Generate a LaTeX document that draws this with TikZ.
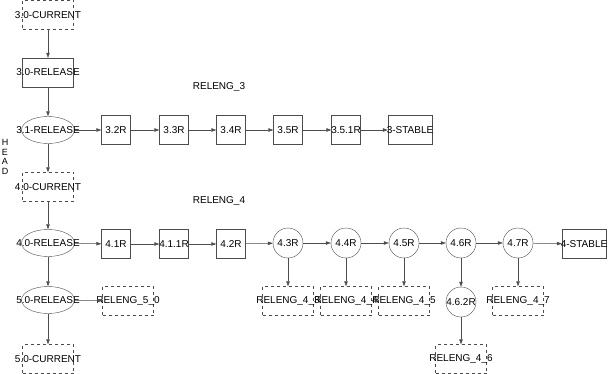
\documentclass[tikz,border=0pt]{standalone}
\usepackage{fontspec}
\setmainfont{Liberation Sans}
\usetikzlibrary{arrows.meta,shapes.geometric}
\definecolor{ln}{gray}{0.3}
\begin{document}
\begin{tikzpicture}[x=1pt,y=-1pt,font=\fontsize{10}{12}\selectfont,
  lbl/.style={inner sep=0pt,text=black},
  bigbox/.style={draw=ln,minimum width=51pt,minimum height=29pt,inner sep=0pt},
  curbox/.style={bigbox,dashed},
  smallbox/.style={draw=ln,minimum width=29pt,minimum height=29pt,inner sep=0pt},
  stablebox/.style={draw=ln,minimum width=44pt,minimum height=29pt,inner sep=0pt},
  relnode/.style={draw=ln,ellipse,minimum width=53pt,minimum height=27pt,inner sep=0pt},
  circnode/.style={draw=ln,circle,minimum size=30pt,inner sep=0pt},
  conn/.style={draw=ln,line width=0.5pt,-{Triangle[length=5pt,width=3.5pt]}}]
\useasboundingbox (0,0) rectangle (608,374);
% left column
\node[curbox,label={[lbl]center:3.0-CURRENT}] (c30) at (48,15) {};
\node[bigbox,label={[lbl]center:3.0-RELEASE}] (r30) at (48,72.5) {};
\node[relnode,label={[lbl]center:3.1-RELEASE}] (r31) at (48,130) {};
\node[curbox,label={[lbl]center:4.0-CURRENT}] (c40) at (48,187) {};
\node[relnode,label={[lbl]center:4.0-RELEASE}] (r40) at (48,243) {};
\node[relnode,label={[lbl]center:5.0-RELEASE}] (r50) at (48,300) {};
\node[curbox,label={[lbl]center:5.0-CURRENT}] (c50) at (48,359) {};
\node[curbox,label={[lbl]center:RELENG\_5\_0}] (b50) at (128,301) {};
\node[lbl,align=center,font=\fontsize{9}{9.5}\selectfont] (head) at (5,157) {H\\E\\A\\D};
% RELENG_3 branch
\node[lbl] (l3) at (219,87) {RELENG\_3};
\node[smallbox,label={[lbl]center:3.2R}] (n32) at (116,130) {};
\node[smallbox,label={[lbl]center:3.3R}] (n33) at (174,130) {};
\node[smallbox,label={[lbl]center:3.4R}] (n34) at (231,130) {};
\node[smallbox,label={[lbl]center:3.5R}] (n35) at (288,130) {};
\node[smallbox,label={[lbl]center:3.5.1R}] (n351) at (346,130) {};
\node[stablebox,label={[lbl]center:3-STABLE}] (s3) at (410,130) {};
% RELENG_4 branch
\node[lbl] (l4) at (219,201) {RELENG\_4};
\node[smallbox,label={[lbl]center:4.1R}] (n41) at (116,244) {};
\node[smallbox,label={[lbl]center:4.1.1R}] (n411) at (174,244) {};
\node[smallbox,label={[lbl]center:4.2R}] (n42) at (231,244) {};
\node[circnode,label={[lbl]center:4.3R}] (n43) at (288,243) {};
\node[circnode,label={[lbl]center:4.4R}] (n44) at (346,243) {};
\node[circnode,label={[lbl]center:4.5R}] (n45) at (404,243) {};
\node[circnode,label={[lbl]center:4.6R}] (n46) at (461,243) {};
\node[circnode,label={[lbl]center:4.7R}] (n47) at (518,243) {};
\node[stablebox,label={[lbl]center:4-STABLE}] (s4) at (584,244) {};
\node[curbox,label={[lbl]center:RELENG\_4\_3}] (b43) at (288,301) {};
\node[curbox,label={[lbl]center:RELENG\_4\_4}] (b44) at (346,301) {};
\node[curbox,label={[lbl]center:RELENG\_4\_5}] (b45) at (404,301) {};
\node[circnode,label={[lbl]center:4.6.2R}] (n462) at (461,302) {};
\node[curbox,label={[lbl]center:RELENG\_4\_7}] (b47) at (518,301) {};
\node[curbox,label={[lbl]center:RELENG\_4\_6}] (b46) at (461,359) {};
% connectors
\draw[conn] (c30) -- (r30);
\draw[conn] (r30) -- (r31);
\draw[conn] (r31) -- (c40);
\draw[conn] (c40) -- (r40);
\draw[conn] (r40) -- (r50);
\draw[conn] (r50) -- (c50);
\draw[conn] (r50) -- (b50);
\draw[conn] (r31) -- (n32);
\draw[conn] (n32) -- (n33);
\draw[conn] (n33) -- (n34);
\draw[conn] (n34) -- (n35);
\draw[conn] (n35) -- (n351);
\draw[conn] (n351) -- (s3);
\draw[conn] (r40) -- (n41);
\draw[conn] (n41) -- (n411);
\draw[conn] (n411) -- (n42);
\draw[conn] (n42) -- (n43);
\draw[conn] (n43) -- (n44);
\draw[conn] (n44) -- (n45);
\draw[conn] (n45) -- (n46);
\draw[conn] (n46) -- (n47);
\draw[conn] (n47) -- (s4);
\draw[conn] (n43) -- (b43);
\draw[conn] (n44) -- (b44);
\draw[conn] (n45) -- (b45);
\draw[conn] (n46) -- (n462);
\draw[conn] (n462) -- (b46);
\draw[conn] (n47) -- (b47);
\end{tikzpicture}
\end{document}
